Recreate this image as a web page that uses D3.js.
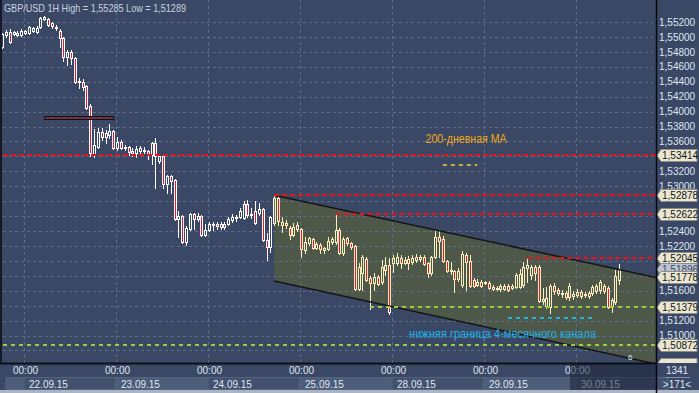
<!DOCTYPE html>
<html>
<head>
<meta charset="utf-8">
<script src="https://cdn.jsdelivr.net/npm/d3@7"></script>
<style>
  html, body { margin: 0; padding: 0; background: #3b4865; }
  svg { display: block; }
  text { font-family: "Liberation Sans", Arial, sans-serif; }
</style>
</head>
<body>
<div id="chart"></div>
<script>
// GBP/USD 1H candles, [open, high, low, close], from 21.09.15 18:00
const ohlc = [
  [1.54865,1.55053,1.54852,1.55039],[1.55026,1.55093,1.54999,1.55066],[1.55066,1.55106,1.54919,1.54932],
  [1.55039,1.55080,1.55026,1.55066],[1.55026,1.55080,1.55013,1.55053],[1.55026,1.55106,1.55013,1.55080],
  // 22.09
  [1.55053,1.55093,1.55039,1.55080],[1.55053,1.55147,1.55039,1.55133],[1.55080,1.55133,1.55066,1.55120],
  [1.55066,1.55147,1.55053,1.55120],[1.55133,1.55267,1.55120,1.55254],[1.55240,1.55285,1.55227,1.55267],
  [1.55240,1.55254,1.55147,1.55160],[1.55187,1.55200,1.55120,1.55147],[1.55133,1.55160,1.55093,1.55120],
  [1.55080,1.55106,1.54865,1.54986],[1.54986,1.54999,1.54678,1.54731],[1.54731,1.54825,1.54624,1.54798],
  [1.54798,1.54825,1.54637,1.54718],[1.54718,1.54731,1.54383,1.54396],[1.54396,1.54450,1.54316,1.54410],
  [1.54396,1.54436,1.54289,1.54329],[1.54343,1.54356,1.54034,1.54048],[1.54075,1.54101,1.53405,1.53445],
  [1.53418,1.53766,1.53391,1.53552],[1.53525,1.53780,1.53512,1.53726],[1.53726,1.53780,1.53619,1.53659],
  [1.53659,1.53753,1.53579,1.53713],[1.53686,1.53833,1.53646,1.53740],[1.53740,1.53753,1.53498,1.53512],
  // 23.09
  [1.53512,1.53659,1.53485,1.53592],[1.53592,1.53619,1.53498,1.53512],[1.53512,1.53552,1.53485,1.53525],
  [1.53525,1.53539,1.53418,1.53458],[1.53472,1.53512,1.53405,1.53445],[1.53445,1.53539,1.53391,1.53498],
  [1.53472,1.53539,1.53445,1.53512],[1.53485,1.53525,1.53445,1.53472],[1.53472,1.53485,1.53364,1.53418],
  [1.53418,1.53592,1.53297,1.53579],[1.53579,1.53646,1.52976,1.53405],[1.53338,1.53431,1.53311,1.53405],
  [1.53405,1.53418,1.52976,1.53029],[1.53029,1.53150,1.52909,1.53137],[1.53137,1.53150,1.52909,1.53070],
  [1.53083,1.53096,1.52547,1.52560],[1.52560,1.52668,1.52319,1.52601],[1.52601,1.52614,1.52239,1.52252],
  [1.52252,1.52467,1.52212,1.52440],[1.52426,1.52641,1.52413,1.52627],[1.52627,1.52641,1.52426,1.52560],
  [1.52560,1.52641,1.52534,1.52601],[1.52601,1.52614,1.52333,1.52346],[1.52346,1.52493,1.52333,1.52413],
  // 24.09
  [1.52413,1.52520,1.52400,1.52493],[1.52480,1.52520,1.52413,1.52493],[1.52493,1.52520,1.52426,1.52467],
  [1.52493,1.52520,1.52426,1.52453],[1.52453,1.52520,1.52426,1.52493],[1.52493,1.52587,1.52480,1.52560],
  [1.52547,1.52627,1.52520,1.52587],[1.52574,1.52614,1.52534,1.52587],[1.52587,1.52708,1.52574,1.52668],
  [1.52574,1.52802,1.52560,1.52761],[1.52761,1.52815,1.52587,1.52614],[1.52614,1.52708,1.52574,1.52627],
  [1.52668,1.52802,1.52493,1.52507],[1.52641,1.52775,1.52614,1.52694],[1.52694,1.52708,1.52265,1.52279],
  [1.52279,1.52373,1.52011,1.52185],[1.52185,1.52601,1.52118,1.52587],[1.52507,1.52878,1.52480,1.52842],
  [1.52842,1.52869,1.52480,1.52534],[1.52480,1.52587,1.52386,1.52520],[1.52507,1.52547,1.52440,1.52480],
  [1.52440,1.52467,1.52292,1.52346],[1.52346,1.52507,1.52333,1.52453],[1.52426,1.52520,1.52400,1.52480],
  // 25.09
  [1.52426,1.52440,1.52051,1.52158],[1.52145,1.52319,1.52105,1.52252],[1.52239,1.52319,1.52212,1.52306],
  [1.52292,1.52306,1.52158,1.52172],[1.52172,1.52252,1.52158,1.52225],[1.52212,1.52239,1.52105,1.52158],
  [1.52145,1.52185,1.52105,1.52172],[1.52158,1.52319,1.52145,1.52265],[1.52252,1.52319,1.52225,1.52292],
  [1.52252,1.52622,1.52225,1.52413],[1.52413,1.52440,1.52091,1.52105],[1.52105,1.52319,1.52078,1.52292],
  [1.52306,1.52319,1.52212,1.52239],[1.52239,1.52252,1.52158,1.52185],[1.52199,1.52212,1.51609,1.51622],
  [1.51622,1.51971,1.51609,1.51917],[1.51837,1.52078,1.51609,1.52051],[1.52024,1.52051,1.51730,1.51743],
  [1.51770,1.51797,1.51354,1.51703],[1.51703,1.51837,1.51609,1.51783],[1.51783,1.51810,1.51676,1.51690],
  [1.51716,1.52011,1.51690,1.51917],[1.51877,1.52051,1.51810,1.51944],[1.51944,1.52038,1.51289,1.51314],
  // 28.09
  [1.51971,1.52078,1.51850,1.52038],[1.51971,1.52105,1.51944,1.52051],[1.52038,1.52078,1.51904,1.51971],
  [1.51971,1.52051,1.51957,1.52011],[1.52024,1.52065,1.51890,1.51971],[1.51984,1.52078,1.51957,1.52038],
  [1.52011,1.52091,1.51984,1.52051],[1.52051,1.52078,1.51998,1.52024],[1.52051,1.52078,1.51944,1.51957],
  [1.51971,1.51984,1.51783,1.51837],[1.51837,1.52065,1.51810,1.52051],[1.52051,1.52413,1.52038,1.52319],
  [1.52319,1.52413,1.52051,1.52265],[1.52292,1.52333,1.51984,1.51998],[1.51998,1.52011,1.51850,1.51864],
  [1.51877,1.51984,1.51824,1.51864],[1.51864,1.51877,1.51582,1.51756],[1.51756,1.51904,1.51730,1.51864],
  [1.51676,1.52132,1.51649,1.52091],[1.52078,1.52105,1.51609,1.51984],[1.51998,1.52078,1.51649,1.51663],
  [1.51743,1.51770,1.51649,1.51663],[1.51676,1.51756,1.51663,1.51716],[1.51716,1.51743,1.51649,1.51663],
  // 29.09
  [1.51703,1.51730,1.51690,1.51716],[1.51703,1.51730,1.51622,1.51636],[1.51622,1.51676,1.51609,1.51649],
  [1.51636,1.51663,1.51609,1.51622],[1.51622,1.51690,1.51596,1.51663],[1.51622,1.51690,1.51609,1.51663],
  [1.51663,1.51690,1.51596,1.51609],[1.51636,1.51690,1.51622,1.51663],[1.51649,1.51837,1.51636,1.51810],
  [1.51649,1.51890,1.51636,1.51824],[1.51676,1.51984,1.51649,1.51917],[1.51904,1.52045,1.51716,1.51944],
  [1.51810,1.51944,1.51756,1.51917],[1.51917,1.51944,1.51743,1.51837],[1.51917,1.51944,1.51448,1.51462],
  [1.51462,1.51636,1.51421,1.51488],[1.51395,1.51649,1.51368,1.51502],[1.51381,1.51690,1.51301,1.51663],
  [1.51663,1.51703,1.51555,1.51596],[1.51609,1.51636,1.51542,1.51569],[1.51555,1.51609,1.51515,1.51569],
  [1.51569,1.51596,1.51488,1.51515],[1.51515,1.51703,1.51475,1.51663],[1.51529,1.51596,1.51488,1.51555],
  // 30.09
  [1.51542,1.51622,1.51515,1.51582],[1.51582,1.51609,1.51502,1.51529],[1.51542,1.51582,1.51515,1.51555],
  [1.51569,1.51596,1.51502,1.51529],[1.51569,1.51676,1.51542,1.51649],[1.51596,1.51690,1.51569,1.51663],
  [1.51609,1.51743,1.51569,1.51716],[1.51663,1.51690,1.51569,1.51596],[1.51636,1.51663,1.51368,1.51381],
  [1.51395,1.51502,1.51314,1.51475],[1.51448,1.51877,1.51421,1.51797],[1.51743,1.51957,1.51690,1.51896]
];

const dayLabels = ["22.09.15", "23.09.15", "24.09.15", "25.09.15", "28.09.15", "29.09.15", "30.09.15"];
const dayStart = [6, 30, 54, 78, 102, 126, 150];   // candle index at 00:00
const yTicks = [1.552, 1.550, 1.548, 1.546, 1.544, 1.542, 1.540, 1.538, 1.536, 1.534, 1.532, 1.530,
  1.528, 1.526, 1.524, 1.522, 1.520, 1.518, 1.516, 1.514, 1.512, 1.510, 1.508, 1.506];

// horizontal levels: price and first candle index (-1 = whole chart)
const redLevels = [1.53414, 1.52878, 1.52622, 1.52045];
const redFrom = [-1, 71, 87, 137];
const greenLevels = [1.51379, 1.50872];
const greenFrom = [96, -1];
const maLevel = [1.53285, 115, 124];       // price, from, to
const lowerBound = [1.51239, 132, 154];
const channelIdx = [71, 170.6];
const channelTop = [1.52878, 1.51778];
const channelBottom = [1.51731, 1.50619];
const oldLevel = [1.5392, 11, 29];
const markers = [1.53414, 1.52878, 1.52622, 1.52045, 1.51896, 1.51778, 1.51379, 1.50872, 1.50619];
const bidPrice = 1.51896;

const W = 699, H = 393;
const plotR = 656, plotB = 363;
const bg = "#3b4865", chanFill = "#4e5849";

const x = d3.scaleLinear().domain([0, 24]).range([2, 94]);
const y = d3.scaleLinear().domain([1.506, 1.552]).range([365.4, 22]);
const fmt = v => d3.format(".5f")(v).replace(".", ",");
const lastIdx = x.invert(plotR);

const svg = d3.select("#chart").append("svg").attr("width", W).attr("height", H);
svg.append("rect").attr("width", W).attr("height", H).attr("fill", bg);

const defs = svg.append("defs");
defs.append("clipPath").attr("id", "plot-clip")
  .append("rect").attr("x", 2).attr("y", 0).attr("width", plotR - 2).attr("height", plotB);
defs.append("clipPath").attr("id", "axis-clip")
  .append("rect").attr("x", plotR).attr("y", 0).attr("width", W - plotR).attr("height", plotB);
const chanPts = [[channelIdx[0], channelTop[0]], [channelIdx[1], channelTop[1]],
  [channelIdx[1], channelBottom[1]], [channelIdx[0], channelBottom[0]]]
  .map(p => [x(p[0]), y(p[1])].join(",")).join(" ");
defs.append("clipPath").attr("id", "chan-clip").append("polygon").attr("points", chanPts);

const g = svg.append("g").attr("clip-path", "url(#plot-clip)");

// channel fill
g.append("polygon").attr("points", chanPts).attr("fill", chanFill);

// grid
g.selectAll(".hgrid").data(yTicks).join("line")
  .attr("x1", 3).attr("x2", plotR - 3)
  .attr("y1", d => Math.round(y(d)) + 0.5).attr("y2", d => Math.round(y(d)) + 0.5)
  .attr("stroke", "#5d6d8b").attr("stroke-dasharray", "3,3");
g.selectAll(".vgrid").data(dayStart).join("line")
  .attr("x1", d => Math.round(x(d)) - 0.5).attr("x2", d => Math.round(x(d)) - 0.5)
  .attr("y1", 0).attr("y2", plotB)
  .attr("stroke", "#5d6d8b").attr("stroke-dasharray", "3,3");

// candles
function drawCandles(parent, edge, hollow) {
  const c = parent.selectAll("g").data(ohlc).join("g");
  c.append("line")
    .attr("x1", (d, i) => Math.round(x(i)) + 0.5).attr("x2", (d, i) => Math.round(x(i)) + 0.5)
    .attr("y1", d => Math.round(y(d[1]))).attr("y2", d => Math.round(y(d[2])) + 1)
    .attr("stroke", edge);
  c.append("rect")
    .attr("x", (d, i) => Math.round(x(i)) - 0.5)
    .attr("y", d => Math.round(y(Math.max(d[0], d[3]))) + 0.5)
    .attr("width", 2)
    .attr("height", d => Math.max(1, Math.round(y(Math.min(d[0], d[3]))) - Math.round(y(Math.max(d[0], d[3])))))
    .attr("fill", d => d[3] < d[0] ? "#e3182e" : hollow)
    .attr("stroke", edge);
}
drawCandles(g.append("g"), "#ffffff", bg);
drawCandles(g.append("g").attr("clip-path", "url(#chan-clip)"), "#fbefbd", chanFill);

// channel borders
[channelTop, channelBottom].forEach(p => {
  g.append("line")
    .attr("x1", x(channelIdx[0])).attr("y1", y(p[0]))
    .attr("x2", x(channelIdx[1])).attr("y2", y(p[1]))
    .attr("stroke", "#151515").attr("stroke-width", 1.5);
});

// levels
function level(price, from, to, color, dash) {
  const yy = Math.round(y(price));
  g.append("line")
    .attr("x1", from < 0 ? 3 : x(from)).attr("x2", x(to))
    .attr("y1", yy).attr("y2", yy)
    .attr("stroke", color).attr("stroke-width", 2).attr("stroke-dasharray", dash);
}
redLevels.forEach((p, i) => level(p, redFrom[i], lastIdx, "#e8141c", "5,3"));
greenLevels.forEach((p, i) => level(p, greenFrom[i], lastIdx, "#9ccc3c", "4,4"));
level(maLevel[0], maLevel[1], maLevel[2], "#cfae38", "4,4");
level(lowerBound[0], lowerBound[1], lowerBound[2], "#1fb2e0", "4,4");

// old level bar
g.append("rect")
  .attr("x", x(oldLevel[1]) + 0.5).attr("y", Math.round(y(oldLevel[0])) - 1.5)
  .attr("width", x(oldLevel[2]) - x(oldLevel[1])).attr("height", 3)
  .attr("fill", "#6e3344").attr("stroke", "#111");

// annotations
svg.append("text").attr("x", x(110.5)).attr("y", y(1.53633)).attr("dy", "0.35em")
  .attr("fill", "#f2a818").attr("font-size", 12).attr("font-family", "DejaVu Sans")
  .attr("textLength", 81).attr("lengthAdjust", "spacingAndGlyphs")
  .text("200-дневная МА");
svg.append("text").attr("x", x(106.2)).attr("y", y(1.51021)).attr("dy", "0.35em")
  .attr("fill", "#1eb0e4").attr("font-size", 12).attr("font-family", "DejaVu Sans")
  .attr("textLength", 187).attr("lengthAdjust", "spacingAndGlyphs")
  .text("нижняя граница 4-месячного канала");
svg.append("text").attr("x", 628).attr("y", 360).attr("fill", "#e8eef8").attr("font-size", 8).text("6");

// title
svg.append("text").attr("x", 4).attr("y", 12)
  .attr("fill", "#c9d2e2").attr("font-size", 11)
  .attr("textLength", 182).attr("lengthAdjust", "spacingAndGlyphs")
  .text("GBP/USD 1H High = 1,55285 Low = 1,51289");

// bottom time axis panel
svg.append("rect").attr("x", 0).attr("y", plotB).attr("width", plotR).attr("height", H - plotB).attr("fill", bg);
const boxes = [-1].concat(dayStart);
svg.selectAll(".daybox").data(boxes).join("rect")
  .attr("x", (d, i) => i === 0 ? 6 : Math.round(x(d)) - 1)
  .attr("y", 377.5)
  .attr("width", (d, i) => i === 0 ? 19 : 92)
  .attr("height", 12)
  .attr("fill", (d, i) => i % 2 === 0 ? "#4d5c79" : "#43516e")
  .attr("stroke", "#56657f");

const xAxis = d3.axisBottom(x).tickValues(dayStart).tickFormat(() => "00:00").tickSize(0).tickPadding(4);
const xa = svg.append("g").attr("transform", `translate(0,${plotB})`).call(xAxis);
xa.select(".domain").remove();
xa.selectAll("text").attr("fill", "#dfe6f2").attr("font-size", 10);

svg.selectAll(".daylbl").data(dayLabels).join("text")
  .attr("x", (d, i) => Math.round(x(dayStart[i])) + 4).attr("y", 388)
  .attr("fill", "#dfe6f2").attr("font-size", 10).text(d => d);

svg.append("rect").attr("x", 570).attr("y", plotB + 1).attr("width", plotR - 570).attr("height", H - plotB - 4)
  .attr("fill", "#1b2539").attr("opacity", 0.55);

svg.append("line").attr("x1", 0).attr("x2", plotR).attr("y1", plotB + 0.5).attr("y2", plotB + 0.5)
  .attr("stroke", "#0c0f18").attr("stroke-width", 2);
svg.append("rect").attr("x", 0).attr("y", 390).attr("width", W).attr("height", 3).attr("fill", "#aab4c4");
svg.append("line").attr("x1", 1).attr("x2", 1).attr("y1", 0).attr("y2", plotB)
  .attr("stroke", "#141a28").attr("stroke-width", 2);

// price axis: labels that sit under a price marker are hidden, as in the terminal
const visibleTicks = yTicks.filter(t => markers.every(m => Math.abs(y(t) - y(m)) > 7.5));
const yAxis = d3.axisRight(y).tickValues(visibleTicks).tickFormat(fmt).tickSize(0).tickPadding(3);
const ya = svg.append("g").attr("transform", `translate(${plotR},0)`).call(yAxis);
ya.select(".domain").remove();
ya.selectAll("text").attr("fill", "#dfe6f2").attr("font-size", 10);

// price markers
const mk = svg.append("g").attr("clip-path", "url(#axis-clip)")
  .selectAll(".marker").data(markers.filter(m => y(m) < plotB - 4)).join("g")
  .attr("transform", d => `translate(${plotR + 1},${Math.round(y(d)) + 0.5})`);
mk.append("path")
  .attr("d", "M0,0 L4,-6 L40,-6 L40,6 L4,6 Z")
  .attr("fill", d => d === bidPrice ? "#bcc3d2" : "#e9e6d2")
  .attr("stroke", "#8d8f86");
mk.append("text").attr("x", 5).attr("dy", "0.35em")
  .attr("fill", d => d === bidPrice ? "#3a4a66" : "#151515").attr("font-size", 10).text(fmt);
// bottom marker only peeks out above the counter panel
const lowMk = svg.append("g").attr("clip-path", "url(#axis-clip)");
lowMk.append("path")
  .attr("d", `M${plotR + 1},${Math.round(y(markers[8])) + 0.5} l4,-6 l36,0 l0,12 l-36,0 Z`)
  .attr("fill", "#e9e6d2").attr("stroke", "#8d8f86");

svg.append("line").attr("x1", plotR + 0.5).attr("x2", plotR + 0.5).attr("y1", 0).attr("y2", H)
  .attr("stroke", "#05070c").attr("stroke-width", 1.5);

// bar counter
svg.append("text").attr("x", 677).attr("y", 374).attr("text-anchor", "middle")
  .attr("fill", "#dfe6f2").attr("font-size", 10).text("1341");
svg.append("line").attr("x1", 665).attr("x2", 690).attr("y1", 377.5).attr("y2", 377.5).attr("stroke", "#7f8ea8");
svg.append("text").attr("x", 677).attr("y", 388).attr("text-anchor", "middle")
  .attr("fill", "#dfe6f2").attr("font-size", 10).text(">171<");
</script>
</body>
</html>
